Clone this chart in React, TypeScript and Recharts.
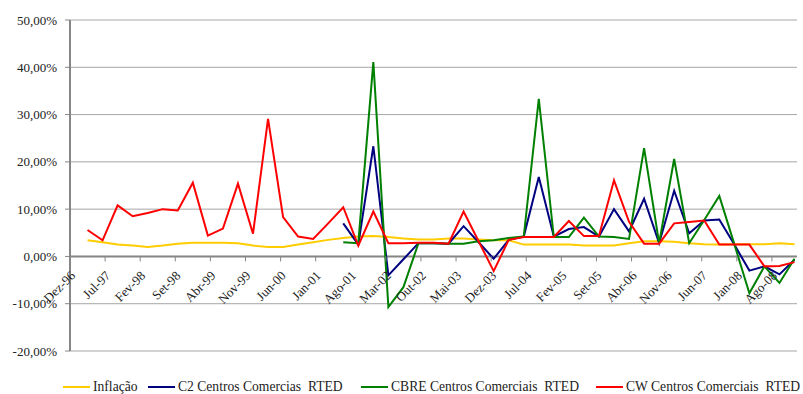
import { CartesianGrid, Line, LineChart, ReferenceLine, XAxis, YAxis } from "recharts";

// quarterly observations, Mar-97 .. Dez-08
const quarters = [
  "Mar-97", "Jun-97", "Set-97", "Dez-97",
  "Mar-98", "Jun-98", "Set-98", "Dez-98",
  "Mar-99", "Jun-99", "Set-99", "Dez-99",
  "Mar-00", "Jun-00", "Set-00", "Dez-00",
  "Mar-01", "Jun-01", "Set-01", "Dez-01",
  "Mar-02", "Jun-02", "Set-02", "Dez-02",
  "Mar-03", "Jun-03", "Set-03", "Dez-03",
  "Mar-04", "Jun-04", "Set-04", "Dez-04",
  "Mar-05", "Jun-05", "Set-05", "Dez-05",
  "Mar-06", "Jun-06", "Set-06", "Dez-06",
  "Mar-07", "Jun-07", "Set-07", "Dez-07",
  "Mar-08", "Jun-08", "Set-08", "Dez-08",
];

const inflacao = [
  3.4, 3.0, 2.5, 2.3, 2.0, 2.3, 2.7, 2.9, 2.9, 2.9, 2.8, 2.3,
  2.0, 2.0, 2.5, 3.0, 3.5, 3.9, 4.2, 4.3, 4.1, 3.8, 3.6, 3.6,
  3.8, 3.8, 3.6, 3.4, 3.4, 2.5, 2.5, 2.5, 2.5, 2.3, 2.3, 2.3,
  2.8, 3.2, 3.2, 3.1, 2.8, 2.6, 2.5, 2.6, 2.6, 2.6, 2.8, 2.6,
];

const c2 = [
  null, null, null, null, null, null, null, null, null, null, null, null,
  null, null, null, null, null, 7.0, 2.5, 23.3, -4.0, -0.6, 2.8, 2.8,
  2.7, 6.4, 3.0, -0.5, 3.5, 4.2, 16.8, 4.2, 5.8, 6.2, 4.2, 10.0,
  5.3, 12.2, 2.8, 13.9, 4.9, 7.6, 7.8, 2.5, -3.0, -2.1, -3.8, -0.7,
];

const cbre = [
  null, null, null, null, null, null, null, null, null, null, null, null,
  null, null, null, null, null, 3.0, 2.8, 41.1, -10.7, -6.5, 2.8, 2.8,
  2.7, 2.7, 3.2, 3.4, 3.9, 4.2, 33.3, 4.1, 4.1, 8.2, 4.2, 4.1,
  3.7, 22.9, 2.8, 20.6, 2.8, 7.7, 12.8, 2.6, -7.8, -2.1, -5.6, -0.5,
];

const cw = [
  5.6, 3.4, 10.8, 8.5, 9.2, 10.0, 9.7, 15.6, 4.4, 5.9, 15.4, 4.8,
  29.1, 8.3, 4.2, 3.7, 7.0, 10.4, 2.3, 9.5, 2.8, 2.8, 2.9, 2.9,
  2.7, 9.5, 3.2, -3.1, 3.5, 4.1, 4.1, 4.1, 7.5, 4.3, 4.3, 16.1,
  7.3, 2.7, 2.7, 7.0, 7.3, 7.6, 2.5, 2.5, 2.5, -2.1, -2.0, -1.2,
];

const tickLabels = [
  "Dez-96", "Jul-97", "Fev-98", "Set-98", "Abr-99", "Nov-99", "Jun-00",
  "Jan-01", "Ago-01", "Mar-02", "Out-02", "Mai-03", "Dez-03", "Jul-04",
  "Fev-05", "Set-05", "Abr-06", "Nov-06", "Jun-07", "Jan-08", "Ago-08",
];

const yTicks = [-20, -10, 0, 10, 20, 30, 40, 50];

const series = [
  { key: "inflacao", name: "Inflação", color: "#FFCC00", left: 63 },
  { key: "c2", name: "C2 Centros Comercias  RTED", color: "#000080", left: 148 },
  { key: "cbre", name: "CBRE Centros Comerciais  RTED", color: "#008000", left: 361 },
  { key: "cw", name: "CW Centros Comerciais  RTED", color: "#FF0000", left: 596 },
];

const MONTHS = ["Jan", "Fev", "Mar", "Abr", "Mai", "Jun", "Jul", "Ago", "Set", "Out", "Nov", "Dez"];

// months elapsed since Dez-96
function monthIndex(label: string) {
  const [mon, yy] = label.split("-");
  const n = Number(yy);
  const year = n < 50 ? 2000 + n : 1900 + n;
  return (year - 1996) * 12 + MONTHS.indexOf(mon) - 11;
}

// each point sits in the middle of its month slot
const data = quarters.map((q, i) => ({
  t: monthIndex(q) + 0.5,
  inflacao: inflacao[i],
  c2: c2[i],
  cbre: cbre[i],
  cw: cw[i],
}));

const WIDTH = 803;
const HEIGHT = 394;
const TOP = 20;
const X_HEIGHT = 43;
const Y_MIN = -20;
const Y_MAX = 50;
const PLOT_H = HEIGHT - TOP - X_HEIGHT;
const ZERO_Y = TOP + (PLOT_H * Y_MAX) / (Y_MAX - Y_MIN);

const FONT = "'Liberation Serif', 'Times New Roman', serif";
const AXIS = "#868686";

// date labels hang off the 0% line, not the bottom of the plot
function ZeroAxisTick(props: any) {
  const { x, payload } = props;
  const label = tickLabels.find((l) => monthIndex(l) === payload.value) ?? "";
  const ax = x + 6;
  const ay = ZERO_Y + 20;
  return (
    <g>
      <line x1={x} x2={x} y1={ZERO_Y} y2={ZERO_Y + 5} stroke={AXIS} strokeWidth={1} />
      <text
        x={ax}
        y={ay}
        textAnchor="end"
        fill="#222"
        style={{ fontFamily: FONT, fontSize: 13 }}
        transform={`rotate(-45 ${ax} ${ay})`}
      >
        {label}
      </text>
    </g>
  );
}

const fmtPct = (v: number) => v.toFixed(2).replace(".", ",") + "%";

export default function App() {
  return (
    <div style={{ position: "absolute", left: 0, top: 0, width: WIDTH, height: HEIGHT, background: "#fff" }}>
      <LineChart width={WIDTH} height={HEIGHT} data={data} margin={{ top: TOP, right: 6, left: 0, bottom: 0 }}>
        <CartesianGrid vertical={false} stroke="#a6a6a6" strokeWidth={1} />
        <XAxis
          type="number"
          dataKey="t"
          domain={[0, 145]}
          ticks={tickLabels.map(monthIndex)}
          interval={0}
          height={X_HEIGHT}
          axisLine={false}
          tickLine={false}
          tick={<ZeroAxisTick />}
        />
        <YAxis
          type="number"
          domain={[Y_MIN, Y_MAX]}
          ticks={yTicks}
          width={70}
          tickFormatter={fmtPct}
          axisLine={{ stroke: AXIS, strokeWidth: 2 }}
          tickLine={{ stroke: AXIS }}
          tickSize={5}
          tickMargin={8}
          tick={{ fontSize: 13, fontFamily: FONT, fill: "#222" }}
        />
        <ReferenceLine y={0} stroke={AXIS} strokeWidth={2} />
        {series.map((s) => (
          <Line
            key={s.key}
            type="linear"
            dataKey={s.key}
            name={s.name}
            stroke={s.color}
            strokeWidth={2}
            dot={false}
            activeDot={false}
            isAnimationActive={false}
          />
        ))}
      </LineChart>
      <div style={{ position: "absolute", top: 379, left: 0, width: WIDTH, height: 16, fontFamily: FONT, fontSize: 13.6, color: "#222" }}>
        {series.map((s) => (
          <div
            key={s.key}
            style={{ position: "absolute", left: s.left, top: 0, display: "flex", alignItems: "center", whiteSpace: "pre" }}
          >
            <span style={{ display: "inline-block", width: 27, height: 2, background: s.color, marginRight: 3 }} />
            <span>{s.name}</span>
          </div>
        ))}
      </div>
    </div>
  );
}
